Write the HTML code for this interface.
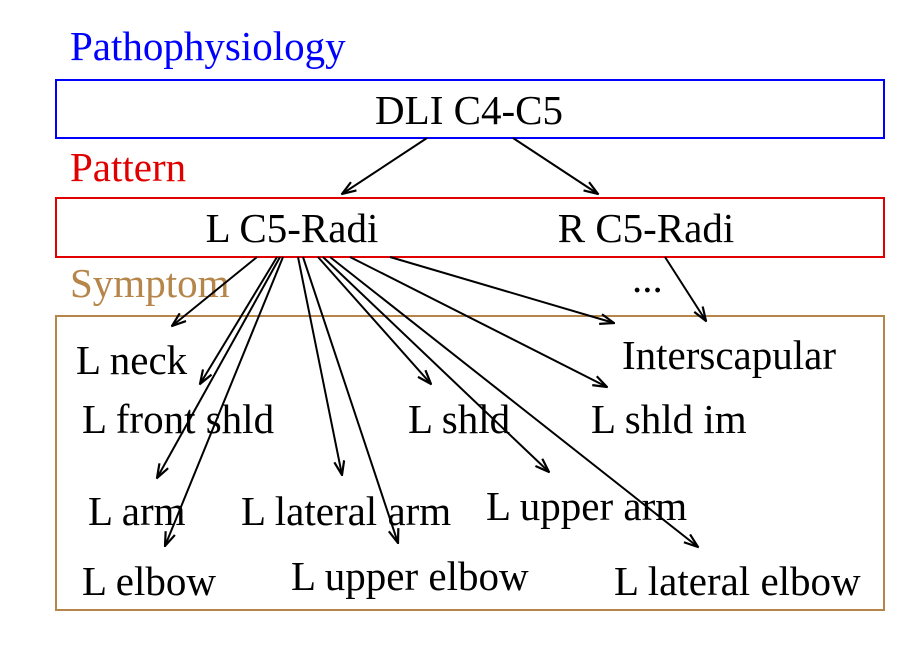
<!DOCTYPE html>
<html><head><meta charset="utf-8"><style>html,body{margin:0;padding:0;background:#fff}</style></head>
<body>
<svg width="918" height="655" viewBox="0 0 918 655" xmlns="http://www.w3.org/2000/svg" font-family="Liberation Serif, serif" font-size="41">
<defs>
<marker id="b" viewBox="0 0 16 12" refX="15" refY="6" markerWidth="16" markerHeight="12" orient="auto" markerUnits="userSpaceOnUse">
<path d="M1,1 L15,6 L1,11" fill="none" stroke="#000" stroke-width="2.2"/></marker>
</defs>
<text x="70" y="60" fill="#0000ff">Pathophysiology</text>
<rect x="56" y="80" width="828" height="58" fill="none" stroke="#0000ff" stroke-width="2"/>
<text x="469" y="124" text-anchor="middle">DLI C4-C5</text>
<text x="70" y="181" fill="#e00000">Pattern</text>
<rect x="56" y="198" width="828" height="59" fill="none" stroke="#e00000" stroke-width="2"/>
<text x="292" y="242" text-anchor="middle">L C5-Radi</text>
<text x="646" y="242" text-anchor="middle">R C5-Radi</text>
<text x="70" y="297" fill="#b5854a">Symptom</text>
<text x="632" y="292">...</text>
<rect x="56" y="316" width="828" height="294" fill="none" stroke="#b5854a" stroke-width="2"/>
<text x="76" y="374">L neck</text>
<text x="622" y="369">Interscapular</text>
<text x="82" y="433">L front shld</text>
<text x="408" y="433">L shld</text>
<text x="591" y="433">L shld im</text>
<text x="88" y="525">L arm</text>
<text x="241" y="525">L lateral arm</text>
<text x="486" y="520">L upper arm</text>
<text x="82" y="595">L elbow</text>
<text x="291" y="590">L upper elbow</text>
<text x="614" y="595">L lateral elbow</text>
<g stroke="#000" stroke-width="2" fill="none" marker-end="url(#b)">
<line x1="427" y1="138" x2="342" y2="194"/>
<line x1="513" y1="138" x2="598" y2="194"/>
<line x1="257" y1="257" x2="172" y2="326"/>
<line x1="277" y1="257" x2="200" y2="384"/>
<line x1="280" y1="257" x2="157" y2="478"/>
<line x1="283" y1="257" x2="165" y2="546"/>
<line x1="298" y1="257" x2="342" y2="475"/>
<line x1="303" y1="257" x2="398" y2="543"/>
<line x1="318" y1="257" x2="431" y2="384"/>
<line x1="323" y1="257" x2="549" y2="472"/>
<line x1="330" y1="257" x2="698" y2="547"/>
<line x1="350" y1="257" x2="607" y2="387"/>
<line x1="390" y1="257" x2="614" y2="323"/>
<line x1="665" y1="257" x2="706" y2="321"/>
</g>
</svg>
</body></html>
